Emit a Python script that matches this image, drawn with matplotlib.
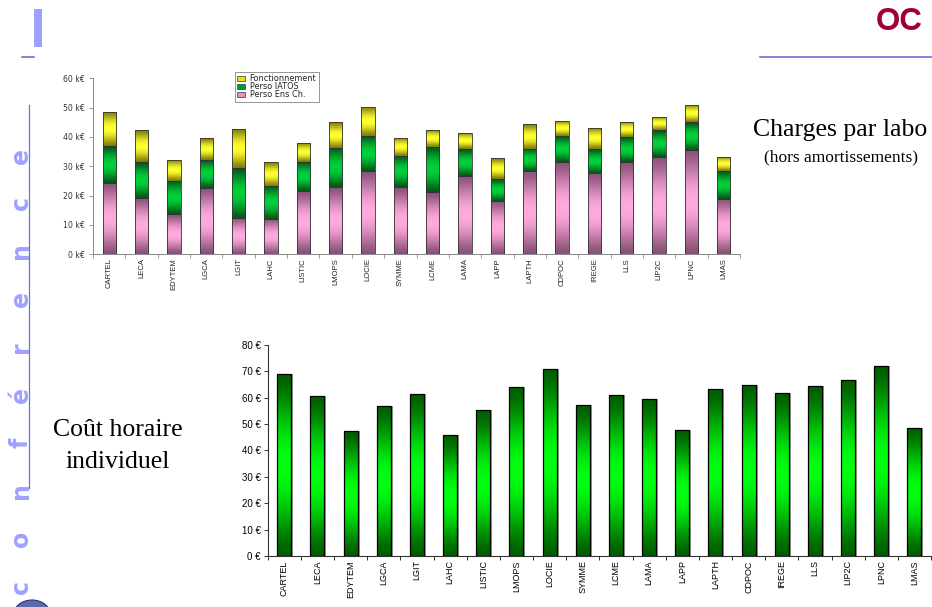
import numpy as np
import matplotlib
matplotlib.use('Agg')
import matplotlib.pyplot as plt
from matplotlib.patches import Patch, Rectangle, Ellipse
from matplotlib.lines import Line2D
from matplotlib.colors import to_rgb
from matplotlib.ticker import FuncFormatter, FixedLocator

# ---------------- data ----------------
labs = ["CARTEL", "LECA", "EDYTEM", "LGCA", "LGIT", "LAHC", "LISTIC", "LMOPS",
        "LOCIE", "SYMME", "LCME", "LAMA", "LAPP", "LAPTH", "CDPOC", "IREGE",
        "LLS", "LIP2C", "LPNC", "LMAS"]
perso_ens = [24.4, 19.3, 13.6, 22.5, 12.5, 12.0, 21.5, 22.8, 28.3, 22.8,
             21.1, 26.7, 18.2, 28.4, 31.5, 27.8, 31.4, 33.1, 35.6, 19.0]
perso_iatos = [12.5, 12.2, 11.5, 9.8, 17.0, 11.3, 10.0, 13.6, 12.0, 10.7,
               15.5, 9.1, 7.5, 7.6, 8.8, 8.0, 8.5, 9.2, 9.4, 9.3]
fonct = [11.7, 10.8, 7.2, 7.2, 13.3, 8.0, 6.6, 8.6, 9.9, 6.2,
         5.9, 5.7, 7.0, 8.3, 5.2, 7.2, 5.3, 4.5, 5.8, 4.8]
cout_horaire = [68.8, 60.4, 47.3, 56.7, 61.2, 45.8, 55.1, 63.8, 70.9, 57.0,
                60.8, 59.3, 47.7, 63.1, 64.6, 61.6, 64.2, 66.5, 71.8, 48.5]
top_yticks = [0, 10, 20, 30, 40, 50, 60]
bot_yticks = [0, 10, 20, 30, 40, 50, 60, 70, 80]
legend_labels = ["Fonctionnement", "Perso IATOS", "Perso Ens Ch."]

W, H = 932, 607
fig = plt.figure(figsize=(W / 100, H / 100), dpi=100)
fig.patch.set_facecolor('white')


def fx(px):
    return px / W


def fy(py):
    return 1 - py / H


def gradient_fill(ax, bars, dark, light, z=2, power=1.5):
    d = np.array(to_rgb(dark))
    l = np.array(to_rgb(light))
    t = np.linspace(0, 1, 256)
    f = np.sin(np.pi * t) ** power
    col = d[None, :] * (1 - f[:, None]) + l[None, :] * f[:, None]
    arr = np.repeat(col[:, None, :], 4, axis=1)
    for b in bars:
        x0, y0, w, h = b.get_x(), b.get_y(), b.get_width(), b.get_height()
        im = ax.imshow(arr, extent=(x0, x0 + w, y0, y0 + h), aspect='auto',
                       origin='lower', zorder=z, interpolation='bilinear')
        im.set_clip_path(b)


x = np.arange(len(labs))

# ---------------- top chart ----------------
ax1 = fig.add_axes([fx(93), fy(254.3), fx(740) - fx(93), fy(78.3) - fy(254.3)])
wd = 0.41
ens_arr = np.array(perso_ens)
iat_arr = np.array(perso_iatos)
fon_arr = np.array(fonct)
b_ens = ax1.bar(x, ens_arr, wd, facecolor='none', edgecolor='#333333', linewidth=0.6, zorder=3)
b_iat = ax1.bar(x, iat_arr, wd, bottom=ens_arr, facecolor='none', edgecolor='#333333', linewidth=0.6, zorder=3)
b_fon = ax1.bar(x, fon_arr, wd, bottom=ens_arr + iat_arr, facecolor='none', edgecolor='#333333', linewidth=0.6, zorder=3)
gradient_fill(ax1, b_ens, '#8a5078', '#ffaadc', power=1.4)
gradient_fill(ax1, b_iat, '#005a1a', '#00d03a', power=1.4)
gradient_fill(ax1, b_fon, '#7e7e08', '#ffff30', power=1.4)
ax1.set_xlim(-0.5, len(labs) - 0.5)
ax1.set_ylim(0, 60)
ax1.set_yticks(top_yticks)
ax1.yaxis.set_major_formatter(FuncFormatter(lambda v, p: f"{int(v)} k€"))
ax1.set_xticks(x)
ax1.set_xticklabels(labs, rotation=90, fontsize=5.5, family='Liberation Sans', color='#222222')
ax1.xaxis.set_minor_locator(FixedLocator(np.arange(-0.5, len(labs), 1)))
ax1.tick_params(axis='x', which='major', length=0, pad=3)
ax1.tick_params(axis='x', which='minor', length=3, width=0.6, color='#888888', direction='out')
ax1.tick_params(axis='y', length=3, width=0.6, color='#888888', labelsize=5.6, labelcolor='#333333', pad=3)
for lab in ax1.get_yticklabels():
    lab.set_family('DejaVu Sans')
for s in ['top', 'right']:
    ax1.spines[s].set_visible(False)
for s in ['left', 'bottom']:
    ax1.spines[s].set_color('#888888')
    ax1.spines[s].set_linewidth(0.7)
ax1.set_facecolor('none')

handles = [Patch(facecolor='#e6e600', edgecolor='#333333', linewidth=0.5),
           Patch(facecolor='#00a030', edgecolor='#333333', linewidth=0.5),
           Patch(facecolor='#e890c4', edgecolor='#333333', linewidth=0.5)]
leg = fig.legend(handles, legend_labels, loc='upper left',
                 bbox_to_anchor=(fx(235), fy(71.7)),
                 prop={'family': 'DejaVu Sans', 'size': 5.9},
                 frameon=True, fancybox=False, edgecolor='#666666',
                 handlelength=0.9, handleheight=0.6, handletextpad=0.6,
                 labelspacing=-0.12, borderpad=0.3, borderaxespad=0)
leg.get_frame().set_linewidth(0.6)
for t in leg.get_texts():
    t.set_color('#222222')

# ---------------- bottom chart ----------------
ax2 = fig.add_axes([fx(267.7), fy(556), fx(931) - fx(267.7), fy(344.7) - fy(556)])
wd2 = 0.42
vals = np.array(cout_horaire)
ax2.bar(x + 0.06, vals, wd2, color='#9a9a9a', zorder=1, linewidth=0)
b2 = ax2.bar(x, vals, wd2, facecolor='none', edgecolor='black', linewidth=0.9, zorder=3)
gradient_fill(ax2, b2, '#005e00', '#00ff10', power=1.5)
ax2.set_xlim(-0.5, len(labs) - 0.5)
ax2.set_ylim(0, 80)
ax2.set_yticks(bot_yticks)
ax2.yaxis.set_major_formatter(FuncFormatter(lambda v, p: f"{int(v)} €"))
ax2.set_xticks(x)
ax2.set_xticklabels(labs, rotation=90, fontsize=6.5, family='Liberation Sans', color='black')
ax2.xaxis.set_minor_locator(FixedLocator(np.arange(-0.5, len(labs), 1)))
ax2.tick_params(axis='x', which='major', length=0, pad=3)
ax2.tick_params(axis='x', which='minor', length=3, width=0.7, color='#333333', direction='out')
ax2.tick_params(axis='y', length=3, width=0.7, color='#333333', labelsize=7, pad=2)
for lab in ax2.get_yticklabels():
    lab.set_family('Liberation Sans')
for s in ['top', 'right']:
    ax2.spines[s].set_visible(False)
for s in ['left', 'bottom']:
    ax2.spines[s].set_color('#333333')
    ax2.spines[s].set_linewidth(0.8)
ax2.set_facecolor('none')

# ---------------- slide decorations ----------------
serif = 'Liberation Serif'
fig.text(fx(840), fy(130), "Charges par labo", ha='center', va='center',
         fontsize=18.5, family=serif)
fig.text(fx(841), fy(157), "(hors amortissements)", ha='center', va='center',
         fontsize=12.5, family=serif)
fig.text(fx(118), fy(430), "Coût horaire", ha='center', va='center',
         fontsize=18.5, family=serif)
fig.text(fx(118), fy(462), "individuel", ha='center', va='center',
         fontsize=18.5, family=serif)
fig.text(fx(899.5), fy(21.5), "OC", ha='center', va='center', fontsize=22.5,
         fontweight='bold', color='#a00038', family='Liberation Sans')

letters = list("conférence")
ys = [587, 539, 491, 443, 395, 347, 299, 251, 203, 156]
for ch, yy in zip(letters, ys):
    fig.text(fx(28), fy(yy), ch, rotation=90, rotation_mode='anchor',
             ha='center', va='baseline',
             fontsize=17, fontweight='bold', color='#a0a0ff', family='DejaVu Sans')

fig.add_artist(Rectangle((fx(34), fy(47)), fx(8), fy(9) - fy(47),
                         transform=fig.transFigure, color='#a0a0ff', linewidth=0))
fig.add_artist(Line2D([fx(22), fx(34)], [fy(57), fy(57)], transform=fig.transFigure,
                      color='#7070dd', linewidth=1.2))
fig.add_artist(Line2D([fx(760), fx(932)], [fy(57), fy(57)], transform=fig.transFigure,
                      color='#7070dd', linewidth=1.2))
fig.add_artist(Line2D([fx(29), fx(29)], [fy(105), fy(488)], transform=fig.transFigure,
                      color='#7070dd', linewidth=0.9))
fig.add_artist(Ellipse((fx(32), fy(614)), fx(36), 28 / H, transform=fig.transFigure,
                       facecolor='#5a6aa8', edgecolor='#2a3a78', linewidth=0.8))

fig.savefig('out.png', dpi=100)
